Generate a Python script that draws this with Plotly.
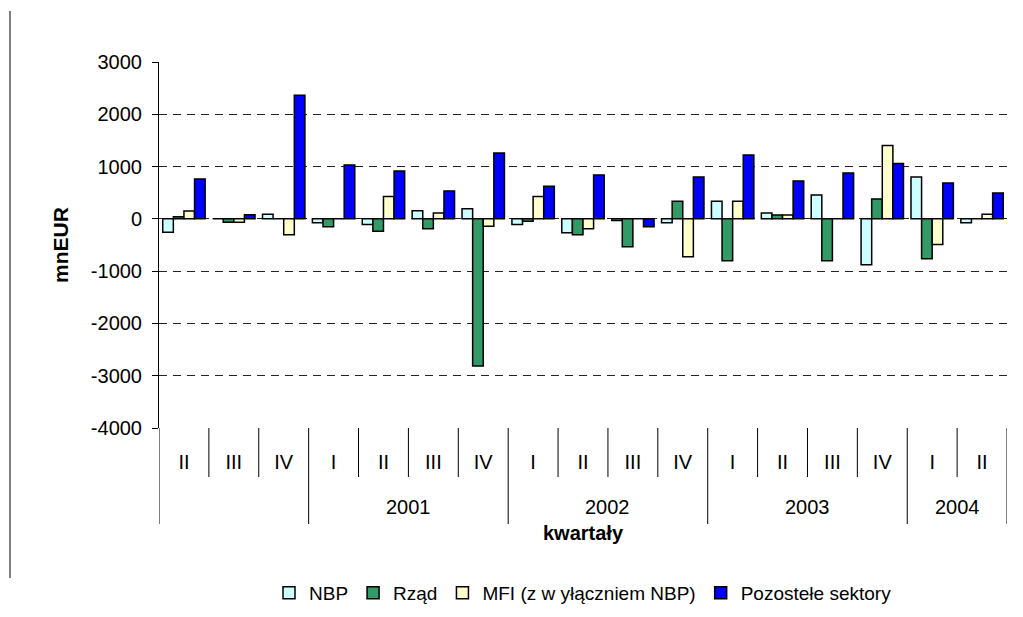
import plotly.graph_objs as go

# quarters on the category axis, grouped by year (first group has no year label)
quarters = ["II", "III", "IV", "I", "II", "III", "IV", "I", "II", "III", "IV",
            "I", "II", "III", "IV", "I", "II"]
year_labels = ["", "2001", "2002", "2003", "2004"]
year_sizes = [3, 4, 4, 4, 2]

y_ticks = [-4000, -3000, -2000, -1000, 0, 1000, 2000, 3000]

nbp = [-255, 0, 88, -76, -109, 153, 191, -109, -267, -30, -76, 336, 114, 458, -878, 802, -76]
rzad = [38, -65, 0, -153, -236, -191, -2813, -45, -305, -534, 336, -802, 76, -802, 382, -763, 0]
mfi = [150, -65, -305, 0, 426, 114, -141, 426, -191, 0, -725, 336, 76, 0, 1405, -490, 88]
pozostale = [763, 80, 2366, 1030, 916, 534, 1260, 623, 840, -153, 802, 1221, 725, 878, 1061, 687, 496]

series_names = ["NBP", "Rząd", "MFI (z w yłączniem NBP)", "Pozostełe sektory"]
series_colors = ["#CCFFFF", "#339966", "#FFFFCC", "#0000FF"]

FONT = "Liberation Sans, Arial, sans-serif"
FS = 20
# the page body has an 8px margin on every side, so keep the figure inside it
OFF = 8
W, H = 1023 - 2 * OFF, 617 - 2 * OFF
M_L, M_T = 159 - OFF, 62 - OFF
M_R = W - (1007 - OFF)
M_B = H - (428 - OFF)
PLOT_H = H - M_T - M_B
PLOT_W = W - M_L - M_R


def px_below(px):
    # paper y coordinate for a distance in pixels below the plot area
    return -px / PLOT_H


x = list(range(len(quarters)))
fig = go.Figure()
for name, vals, col in zip(series_names, [nbp, rzad, mfi, pozostale], series_colors):
    fig.add_trace(go.Bar(x=x, y=vals, name=name, marker_color=col,
                         marker_line=dict(color="black", width=1.5)))

fig.update_layout(
    width=W, height=H,
    margin=dict(l=M_L, r=M_R, t=M_T, b=M_B, autoexpand=False),
    plot_bgcolor="white", paper_bgcolor="white",
    font=dict(family=FONT, size=FS, color="black"),
    barmode="group", bargap=0.15, bargroupgap=0,
    showlegend=True,
    legend=dict(orientation="h", x=0.5, xanchor="center",
                yref="container", y=1 - (593 - OFF) / H, yanchor="middle",
                font=dict(size=FS - 1), itemwidth=30, traceorder="normal"),
    xaxis=dict(range=[-0.5, len(quarters) - 0.5], tickvals=x, ticktext=quarters,
               showgrid=False, zeroline=False, showline=False, ticks="",
               ticklabelstandoff=20, tickfont=dict(size=FS)),
    xaxis2=dict(overlaying="x", anchor="free", position=4000 / 7000, side="bottom",
                range=[-0.5, len(quarters) - 0.5],
                tickvals=[i - 0.5 for i in range(len(quarters) + 1)],
                showticklabels=False, ticks="outside", ticklen=5, tickcolor="black",
                showline=True, linecolor="black", linewidth=1, showgrid=False, zeroline=False),
    yaxis=dict(range=[y_ticks[0], y_ticks[-1]], tickvals=y_ticks,
               ticktext=[str(v) for v in y_ticks],
               showgrid=True, gridcolor="#222", griddash="8px,6px", gridwidth=1, zeroline=False,
               showline=True, linecolor="black", linewidth=1,
               ticks="outside", ticklen=6, tickcolor="black", ticklabelstandoff=6,
               tickfont=dict(size=FS)),
)

# category table separators below the plot
shapes = []
bounds = [-0.5]
for n in year_sizes:
    bounds.append(bounds[-1] + n)
for b in [i - 0.5 for i in range(len(quarters) + 1)]:
    depth = 96 if b in bounds else 49
    shapes.append(dict(type="line", xref="x", yref="paper", x0=b, x1=b,
                       y0=0, y1=px_below(depth), line=dict(color="black", width=1)))
# left frame line of the chart area
frame_x = (10 - 159) / PLOT_W
shapes.append(dict(type="line", xref="paper", yref="paper", x0=frame_x, x1=frame_x,
                   y0=1 + (62 - 11) / PLOT_H, y1=px_below(578 - 428),
                   line=dict(color="black", width=1)))
fig.update_layout(shapes=shapes)

annotations = []
for label, b0, b1 in zip(year_labels, bounds[:-1], bounds[1:]):
    if label:
        annotations.append(dict(text=label, xref="x", yref="paper", x=(b0 + b1) / 2,
                                y=px_below(79), yanchor="middle", showarrow=False,
                                font=dict(size=FS)))
annotations.append(dict(text="<b>kwartały</b>", xref="paper", yref="paper", x=0.5,
                        y=px_below(105), yanchor="middle", showarrow=False, font=dict(size=FS)))
annotations.append(dict(text="<b>mnEUR</b>", xref="paper", yref="paper",
                        x=(60 - 159) / PLOT_W, xanchor="center",
                        y=0.5, yanchor="middle", textangle=-90, showarrow=False,
                        font=dict(size=FS + 1)))
fig.update_layout(annotations=annotations)

fig.write_html("out.html")
